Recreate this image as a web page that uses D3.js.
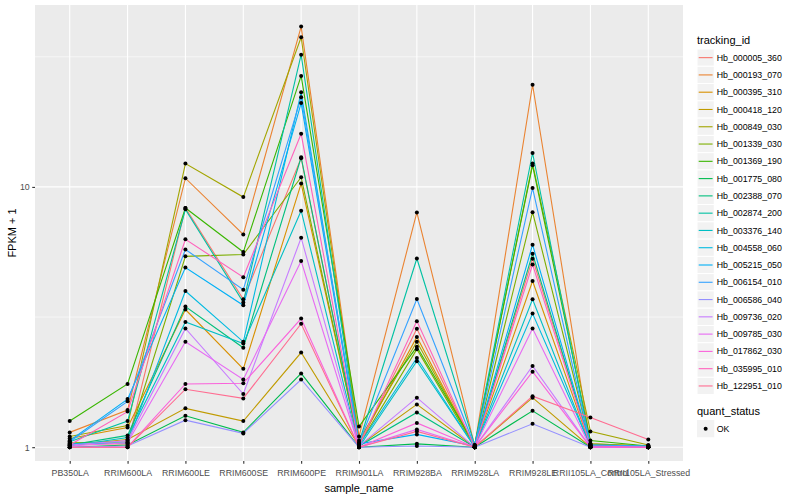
<!DOCTYPE html>
<html>
<head>
<meta charset="utf-8">
<script src="https://cdn.jsdelivr.net/npm/d3@7"></script>
<style>
  body { margin: 0; background: #fff; }
  text { font-family: "Liberation Sans", Arial, sans-serif; }
</style>
</head>
<body>
<div id="chart"></div>
<script>
// categories on the x axis
const samples = ['PB350LA', 'RRIM600LA', 'RRIM600LE', 'RRIM600SE', 'RRIM600PE', 'RRIM901LA',
  'RRIM928BA', 'RRIM928LA', 'RRIM928LE', 'RRII105LA_Control', 'RRII105LA_Stressed']

const trackingIds = ['Hb_000005_360', 'Hb_000193_070', 'Hb_000395_310', 'Hb_000418_120', 'Hb_000849_030',
  'Hb_001339_030', 'Hb_001369_190', 'Hb_001775_080', 'Hb_002388_070', 'Hb_002874_200',
  'Hb_003376_140', 'Hb_004558_060', 'Hb_005215_050', 'Hb_006154_010', 'Hb_006586_040',
  'Hb_009736_020', 'Hb_009785_030', 'Hb_017862_030', 'Hb_035995_010', 'Hb_122951_010']

// FPKM + 1, one row per tracking_id, one value per sample
const fpkm = [
  [1.03, 1.03, 8.3, 3.7, 12.9, 1.02, 2.85, 1.0, 5.3, 1.02, 1.0],    // 000005_360
  [1.14, 1.39, 10.8, 6.57, 41.3, 1.1, 7.98, 1.01, 24.7, 1.03, 1.01], // 000193_070
  [1.08, 1.19, 3.38, 2.0, 10.3, 1.03, 2.65, 1.0, 4.35, 1.01, 1.0],   // 000395_310
  [1.02, 1.07, 1.41, 1.26, 2.31, 1.01, 1.46, 1.0, 1.55, 1.0, 1.0],   // 000418_120
  [1.1, 1.21, 12.3, 9.14, 37.6, 1.06, 2.54, 1.01, 12.3, 1.15, 1.02], // 000849_030
  [1.04, 1.05, 5.41, 5.5, 10.9, 1.02, 2.38, 1.0, 8.0, 1.03, 1.01],   // 001339_030
  [1.26, 1.75, 8.3, 5.62, 26.7, 1.2, 2.43, 1.02, 12.1, 1.06, 1.01],  // 001369_190
  [1.0, 1.02, 1.32, 1.14, 1.92, 1.0, 1.03, 1.0, 1.38, 1.0, 1.0],     // 001775_080
  [1.02, 1.11, 3.47, 2.41, 13.0, 1.01, 1.36, 1.0, 5.54, 1.01, 1.0],  // 002388_070
  [1.05, 1.26, 8.2, 3.6, 32.2, 1.04, 5.31, 1.02, 13.5, 1.02, 1.01],  // 002874_200
  [1.01, 1.09, 3.03, 2.5, 8.1, 1.0, 2.14, 1.0, 3.7, 1.0, 1.0],       // 003376_140
  [1.03, 1.04, 3.98, 2.54, 23.1, 1.02, 2.2, 1.0, 3.26, 1.01, 1.0],   // 004558_060
  [1.06, 1.53, 4.9, 3.51, 21.0, 1.03, 1.12, 1.01, 6.0, 1.02, 1.0],   // 005215_050
  [1.05, 1.5, 5.75, 4.03, 22.1, 1.04, 3.71, 1.01, 9.9, 1.02, 1.01],  // 006154_010
  [1.0, 1.01, 1.27, 1.13, 1.82, 1.0, 1.01, 1.0, 1.23, 1.0, 1.0],     // 006586_040
  [1.02, 1.06, 2.86, 1.6, 6.38, 1.01, 1.55, 1.0, 2.05, 1.0, 1.0],    // 009736_020
  [1.01, 1.04, 2.54, 1.82, 5.19, 1.0, 1.17, 1.0, 2.86, 1.0, 1.0],    // 009785_030
  [1.0, 1.0, 1.75, 1.76, 3.12, 1.0, 1.24, 1.0, 1.95, 1.0, 1.0],      // 017862_030
  [1.02, 1.37, 6.29, 4.5, 16.0, 1.01, 3.05, 1.0, 5.03, 1.01, 1.0],   // 035995_010
  [1.0, 1.0, 1.67, 1.54, 2.98, 1.0, 1.15, 1.0, 1.57, 1.3, 1.07]      // 122951_010
]

const colors = ['#F8766D', '#EA8331', '#D89000', '#C09B00', '#A3A500', '#7CAE00', '#39B600', '#00BB4E',
  '#00BF7D', '#00C1A3', '#00BFC4', '#00BAE0', '#00B0F6', '#35A2FF', '#9590FF', '#C77CFF',
  '#E76BF3', '#FA62DB', '#FF62BC', '#FF6C91']

const yTicks = [1, 10]
const yMinor = [Math.sqrt(10), Math.sqrt(1000)]
const yDomain = [0.885, 50]

const width = 800
const height = 500
const panel = { left: 35, right: 683, top: 5, bottom: 461 }

const svg = d3.select('#chart').append('svg')
  .attr('width', width)
  .attr('height', height)

const x = d3.scalePoint().domain(samples).range([panel.left, panel.right]).padding(0.6)
const y = d3.scaleLog().domain(yDomain).range([panel.bottom, panel.top])
const color = d3.scaleOrdinal().domain(trackingIds).range(colors)

// panel background
svg.append('rect')
  .attr('x', panel.left).attr('y', panel.top)
  .attr('width', panel.right - panel.left).attr('height', panel.bottom - panel.top)
  .attr('fill', '#EBEBEB')

// grid
svg.append('g').selectAll('line').data(yMinor).join('line')
  .attr('x1', panel.left).attr('x2', panel.right)
  .attr('y1', d => y(d)).attr('y2', d => y(d))
  .attr('stroke', '#fff').attr('stroke-width', 0.55)
svg.append('g').selectAll('line').data(yTicks).join('line')
  .attr('x1', panel.left).attr('x2', panel.right)
  .attr('y1', d => y(d)).attr('y2', d => y(d))
  .attr('stroke', '#fff').attr('stroke-width', 1.1)
svg.append('g').selectAll('line').data(samples).join('line')
  .attr('x1', d => x(d)).attr('x2', d => x(d))
  .attr('y1', panel.top).attr('y2', panel.bottom)
  .attr('stroke', '#fff').attr('stroke-width', 1.1)

// lines
const line = d3.line()
  .x((d, i) => x(samples[i]))
  .y(d => y(d))

svg.append('g').selectAll('path')
  .data(trackingIds)
  .join('path')
  .attr('d', (id, k) => line(fpkm[k]))
  .attr('fill', 'none')
  .attr('stroke', id => color(id))
  .attr('stroke-width', 1.1)

// points
const pts = []
fpkm.forEach((row) => row.forEach((v, i) => pts.push({ s: samples[i], v })))
svg.append('g').selectAll('circle').data(pts).join('circle')
  .attr('cx', d => x(d.s))
  .attr('cy', d => y(d.v))
  .attr('r', 2)
  .attr('fill', '#000')

// X axis
svg.append('g')
  .attr('transform', `translate(0,${panel.bottom})`)
  .call(d3.axisBottom(x).tickSize(2.75).tickPadding(6.5))
  .call(g => g.select('.domain').remove())
  .call(g => g.selectAll('.tick line').attr('stroke', '#333333').attr('stroke-width', 1.1))
  .selectAll('text')
  .attr('fill', '#4D4D4D')
  .style('font-size', '8.8px')
  .style('font-family', '"Liberation Sans", Arial, sans-serif')

// Y axis
svg.append('g')
  .attr('transform', `translate(${panel.left},0)`)
  .call(d3.axisLeft(y).tickValues(yTicks).tickFormat(d3.format('d')).tickSize(2.75).tickPadding(2.5))
  .call(g => g.select('.domain').remove())
  .call(g => g.selectAll('.tick line').attr('stroke', '#333333').attr('stroke-width', 1.1))
  .selectAll('text')
  .attr('fill', '#4D4D4D')
  .style('font-size', '8.8px')
  .style('font-family', '"Liberation Sans", Arial, sans-serif')

// axis titles
svg.append('text')
  .attr('x', (panel.left + panel.right) / 2).attr('y', 492)
  .attr('text-anchor', 'middle')
  .style('font-size', '11px')
  .text('sample_name')

svg.append('text')
  .attr('transform', `translate(16,${(panel.top + panel.bottom) / 2}) rotate(-90)`)
  .attr('text-anchor', 'middle')
  .style('font-size', '11px')
  .text('FPKM + 1')

// legend: tracking_id
const legX = 697
const keyH = 17.28
const leg = svg.append('g')
leg.append('text').attr('x', legX).attr('y', 44).style('font-size', '11px').text('tracking_id')

const item = leg.selectAll('g.item').data(trackingIds).join('g')
  .attr('class', 'item')
  .attr('transform', (d, i) => `translate(${legX},${49 + i * keyH})`)
item.append('rect')
  .attr('width', keyH).attr('height', keyH)
  .attr('fill', '#F2F2F2')
  .attr('stroke', '#fff').attr('stroke-width', 1)
item.append('line')
  .attr('x1', 1.7).attr('x2', keyH - 1.7)
  .attr('y1', keyH / 2).attr('y2', keyH / 2)
  .attr('stroke', d => color(d)).attr('stroke-width', 1.1)
item.append('text')
  .attr('x', keyH + 2.5).attr('y', keyH / 2 + 3.1)
  .style('font-size', '8.8px')
  .text(d => d)

// legend: quant_status
const q = svg.append('g')
q.append('text').attr('x', legX).attr('y', 415).style('font-size', '11px').text('quant_status')
const qi = q.append('g').attr('transform', `translate(${legX},${420})`)
qi.append('rect').attr('width', keyH).attr('height', keyH).attr('fill', '#F2F2F2')
qi.append('circle').attr('cx', keyH / 2).attr('cy', keyH / 2).attr('r', 2).attr('fill', '#000')
qi.append('text').attr('x', keyH + 2.5).attr('y', keyH / 2 + 3.1).style('font-size', '8.8px').text('OK')
</script>
</body>
</html>
